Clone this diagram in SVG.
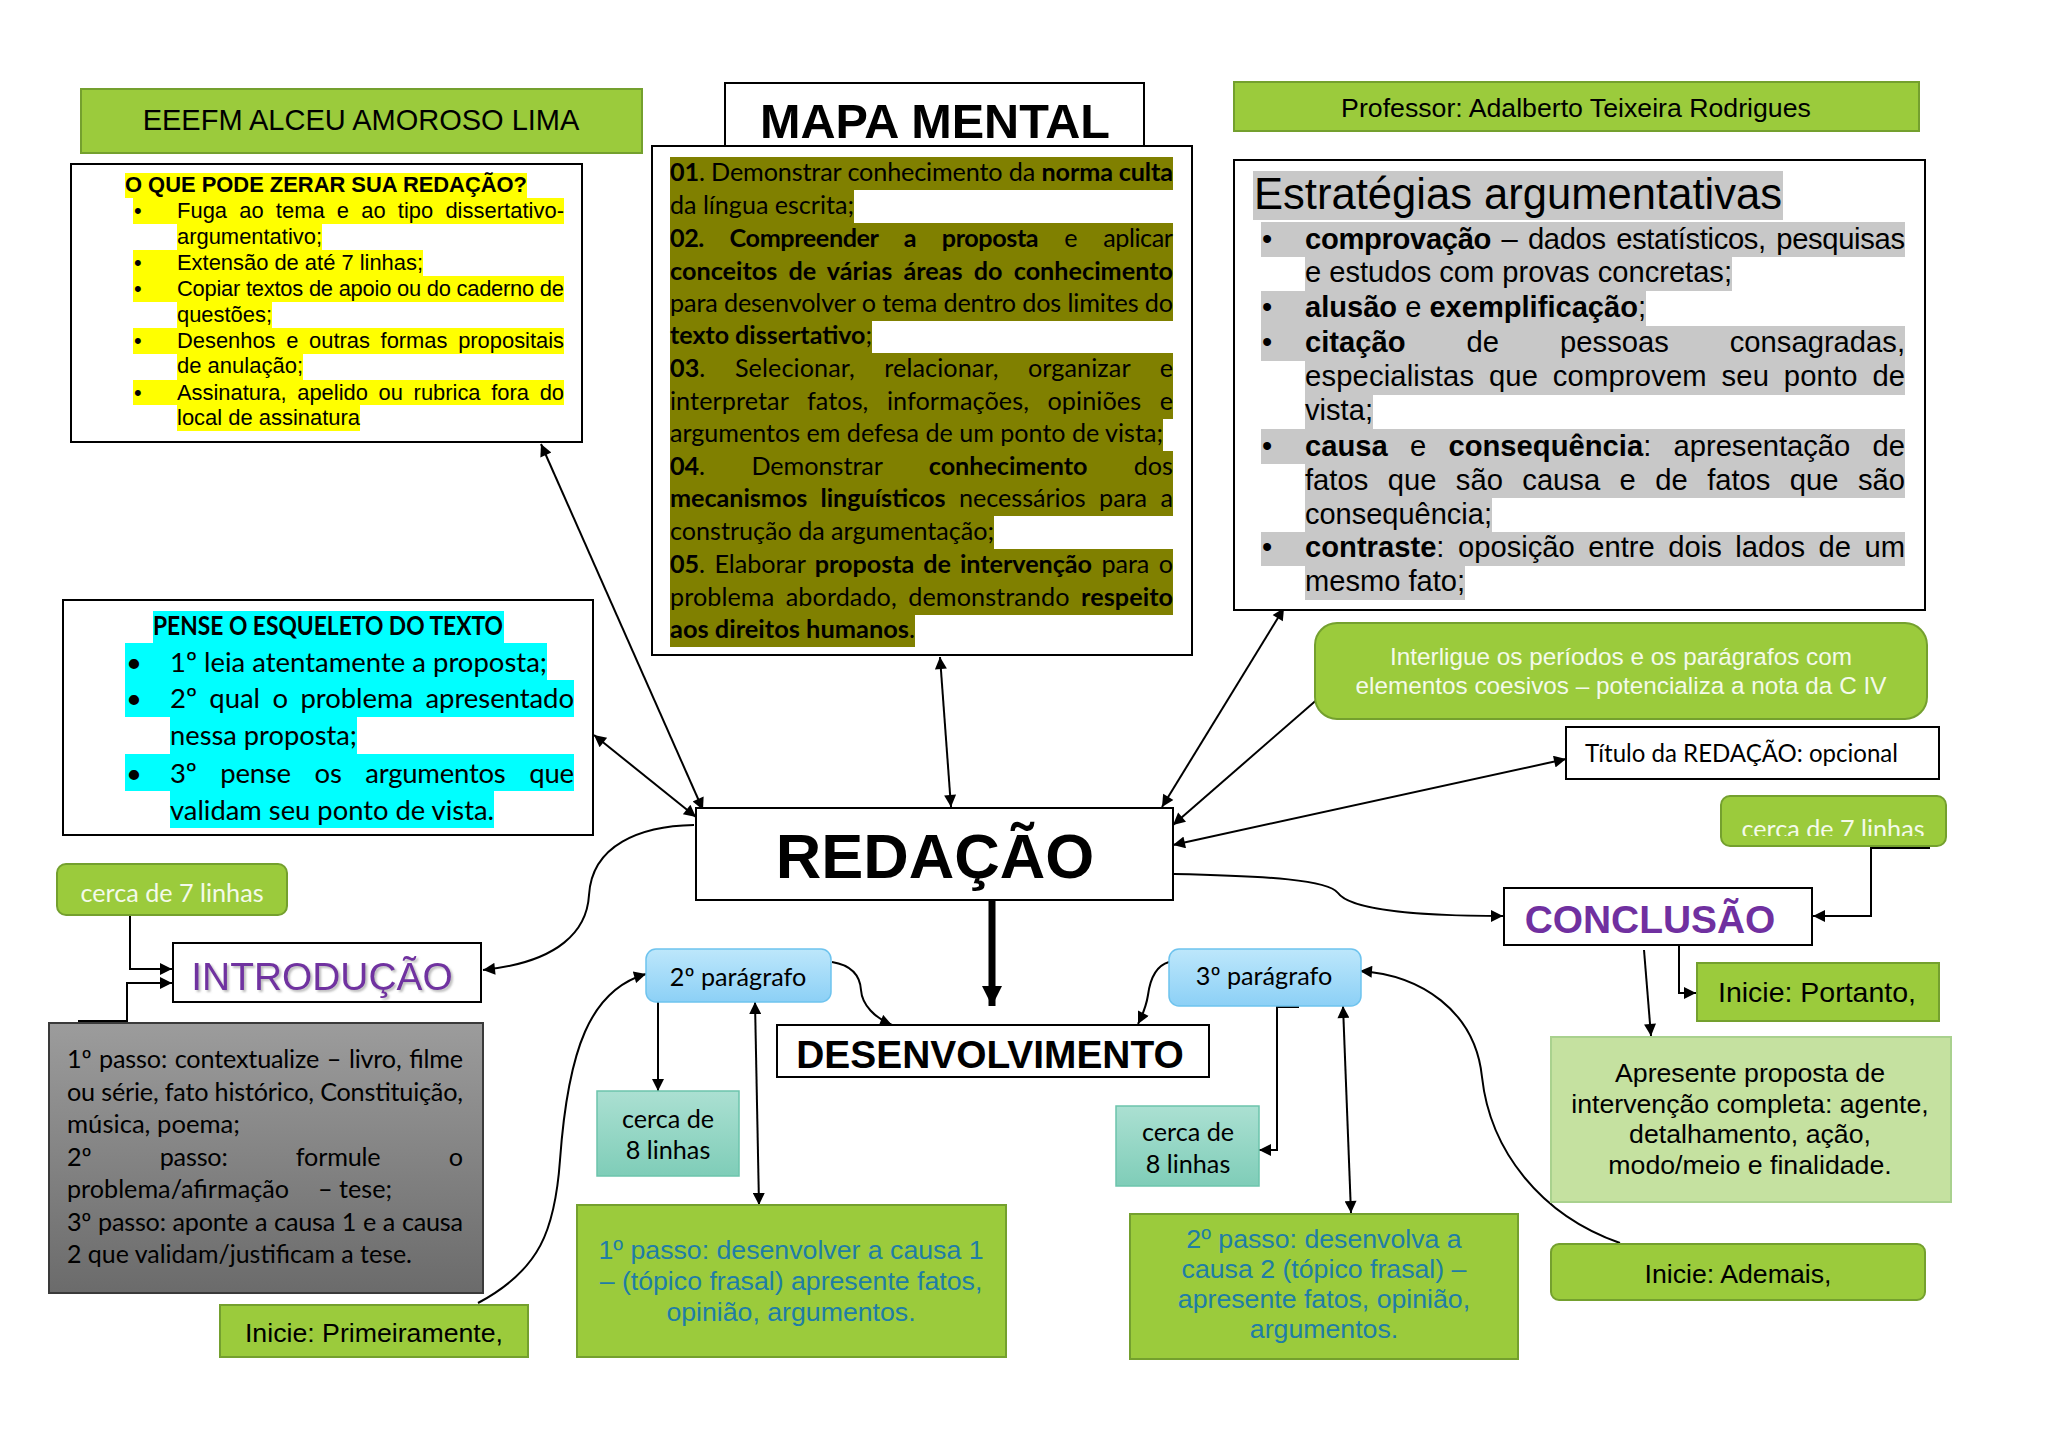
<svg xmlns="http://www.w3.org/2000/svg" width="2048" height="1449" viewBox="0 0 2048 1449">
<style>
.wb{fill:#fff;stroke:#000;stroke-width:2}
.gr{fill:#9BCB3C;stroke:#74A02E;stroke-width:2}
.ar{font-family:"Liberation Sans",Arial,sans-serif}
.ca{font-family:Lato,"Noto Sans",sans-serif}
.b{font-weight:700}
.m{font-family:Lato,"Noto Sans",sans-serif;font-size:25.2px}
.e{font-family:"Liberation Sans",Arial,sans-serif;font-size:29.2px}
.q{font-family:"Liberation Sans",Arial,sans-serif;font-size:21.9px}
.p{font-family:Lato,"Noto Sans",sans-serif;font-size:27.5px}
.gt{font-family:Lato,"Noto Sans",sans-serif;font-size:25.2px}
.c{fill:none;stroke:#000;stroke-width:2}
.ol{fill:#808000}
.yl{fill:#FFFF00}
.gy{fill:#C8C8C8}
.cy{fill:#00FFFF}
.bt{fill:#1F7DA6}
</style>
<defs>
<marker id="ah" viewBox="0 0 10 10" refX="10" refY="5" markerWidth="7" markerHeight="6" orient="auto-start-reverse" markerUnits="strokeWidth"><path d="M0,0 L10,5 L0,10 z" fill="#000"/></marker>
<marker id="ahT" viewBox="0 0 10 10" refX="10" refY="5" markerWidth="20" markerHeight="20" orient="auto" markerUnits="userSpaceOnUse"><path d="M0,0 L10,5 L0,10 z" fill="#000"/></marker>
<linearGradient id="gGray" x1="0" y1="0" x2="0" y2="1"><stop offset="0" stop-color="#9c9c9c"/><stop offset="1" stop-color="#6b6b6b"/></linearGradient>
<linearGradient id="gBlue" x1="0" y1="0" x2="0" y2="1"><stop offset="0" stop-color="#BDE7FB"/><stop offset="1" stop-color="#8CD0F6"/></linearGradient>
<linearGradient id="gTeal" x1="0" y1="0" x2="0" y2="1"><stop offset="0" stop-color="#ABE0D2"/><stop offset="1" stop-color="#7FCDB8"/></linearGradient>
<filter id="sh" x="-5%" y="-20%" width="110%" height="140%"><feDropShadow dx="2" dy="2" stdDeviation="1" flood-color="#777" flood-opacity="0.5"/></filter>
<clipPath id="clipC7"><rect x="1721" y="796" width="225" height="40"/></clipPath>
</defs>
<rect width="2048" height="1449" fill="#fff"/>

<g id="connectors">
<path class="c" d="M541,444 L703,810" marker-start="url(#ah)" marker-end="url(#ah)"/>
<path class="c" d="M594,735 L696,817" marker-start="url(#ah)" marker-end="url(#ah)"/>
<path class="c" d="M940,657 L951,807" marker-start="url(#ah)" marker-end="url(#ah)"/>
<path class="c" d="M1284,608 L1162,807" marker-start="url(#ah)" marker-end="url(#ah)"/>
<path class="c" d="M1320,697 L1173,825" marker-end="url(#ah)"/>
<path class="c" d="M1566,759 L1173,845" marker-start="url(#ah)" marker-end="url(#ah)"/>
<path class="c" d="M1174,874 C1270,876 1328,880 1338,893 C1350,910 1420,916 1503,916" marker-end="url(#ah)"/>
<path class="c" d="M1930,848 L1871,848 L1871,916 L1813,916" marker-end="url(#ah)"/>
<path class="c" d="M1664,945 L1679,945 L1679,993 L1696,993" marker-end="url(#ah)"/>
<path class="c" d="M1644,950 L1651,1036" marker-end="url(#ah)"/>
<path class="c" d="M1620,1243 C1540,1215 1490,1150 1482,1077 C1475,1010 1420,975 1360,971" marker-end="url(#ah)"/>
<path class="c" d="M1343,1006 L1351,1213" marker-start="url(#ah)" marker-end="url(#ah)"/>
<path class="c" d="M1299,1007 L1277,1007 L1277,1150 L1259,1150" marker-end="url(#ah)"/>
<path class="c" d="M1169,962 C1155,966 1150,980 1148,995 C1146,1008 1142,1016 1138,1024" marker-end="url(#ah)"/>
<path d="M992,900 L992,1006" fill="none" stroke="#000" stroke-width="7" marker-end="url(#ahT)"/>
<path class="c" d="M832,962 C850,965 860,975 861,990 C862,1005 875,1018 892,1025" marker-end="url(#ah)"/>
<path class="c" d="M755,1002 L759,1205" marker-start="url(#ah)" marker-end="url(#ah)"/>
<path class="c" d="M658,1002 L658,1091" marker-end="url(#ah)"/>
<path class="c" d="M478,1303 C540,1270 555,1230 560,1160 C568,1050 590,990 646,974" marker-end="url(#ah)"/>
<path class="c" d="M694,825 C640,826 592,845 589,895 C587,930 560,962 483,970" marker-end="url(#ah)"/>
<path class="c" d="M88,915 L130,915 L130,969 L172,969" marker-end="url(#ah)"/>
<path class="c" d="M78,1021 L127,1021 L127,983 L172,983" marker-end="url(#ah)"/>
</g>

<g id="escola">
<rect class="gr" x="81" y="89" width="561" height="64"/>
<text class="ar" x="361" y="130" font-size="29" text-anchor="middle">EEEFM ALCEU AMOROSO LIMA</text>
</g>

<g id="professor">
<rect class="gr" x="1234" y="82" width="685" height="49"/>
<text class="ar" x="1576" y="117" font-size="26.7" text-anchor="middle">Professor: Adalberto Teixeira Rodrigues</text>
</g>

<g id="mapa-titulo">
<rect class="wb" x="725" y="83" width="419" height="64"/>
<text class="ar b" x="935" y="138" font-size="48.6" text-anchor="middle">MAPA MENTAL</text>
</g>

<g id="mapa-competencias">
<rect class="wb" x="652" y="146" width="540" height="509"/>
<rect class="ol" x="670" y="157" width="503" height="33"/>
<rect class="ol" x="670" y="190" width="184" height="33"/>
<rect class="ol" x="670" y="223" width="503" height="33"/>
<rect class="ol" x="670" y="256" width="503" height="33"/>
<rect class="ol" x="670" y="288" width="503" height="33"/>
<rect class="ol" x="670" y="320" width="202" height="33"/>
<rect class="ol" x="670" y="353" width="503" height="33"/>
<rect class="ol" x="670" y="386" width="503" height="33"/>
<rect class="ol" x="670" y="418" width="493" height="33"/>
<rect class="ol" x="670" y="451" width="503" height="33"/>
<rect class="ol" x="670" y="483" width="503" height="33"/>
<rect class="ol" x="670" y="516" width="324" height="33"/>
<rect class="ol" x="670" y="549" width="503" height="33"/>
<rect class="ol" x="670" y="582" width="503" height="33"/>
<rect class="ol" x="670" y="614" width="245" height="33"/>
<text class="m" x="670" y="181" textLength="503" lengthAdjust="spacing"><tspan class="b">01</tspan>. Demonstrar conhecimento da <tspan class="b">norma culta</tspan></text>
<text class="m" x="670" y="214" textLength="184" lengthAdjust="spacingAndGlyphs">da língua escrita;</text>
<text class="m" x="670" y="247" textLength="503" lengthAdjust="spacing" word-spacing="20"><tspan class="b">02. Compreender a proposta</tspan> e aplicar</text>
<text class="m b" x="670" y="280" textLength="503" lengthAdjust="spacing" word-spacing="5">conceitos de várias áreas do conhecimento</text>
<text class="m" x="670" y="312" textLength="503" lengthAdjust="spacing">para desenvolver o tema dentro dos limites do</text>
<text class="m" x="670" y="344" textLength="202" lengthAdjust="spacingAndGlyphs"><tspan class="b">texto dissertativo</tspan>;</text>
<text class="m" x="670" y="377" textLength="503" lengthAdjust="spacing" word-spacing="23"><tspan class="b">03</tspan>. Selecionar, relacionar, organizar e</text>
<text class="m" x="670" y="410" textLength="503" lengthAdjust="spacing" word-spacing="12">interpretar fatos, informações, opiniões e</text>
<text class="m" x="670" y="442" textLength="493" lengthAdjust="spacingAndGlyphs">argumentos em defesa de um ponto de vista;</text>
<text class="m" x="670" y="475" textLength="503" lengthAdjust="spacing" word-spacing="40"><tspan class="b">04</tspan>. Demonstrar <tspan class="b">conhecimento</tspan> dos</text>
<text class="m" x="670" y="507" textLength="503" lengthAdjust="spacing" word-spacing="7"><tspan class="b">mecanismos linguísticos</tspan> necessários para a</text>
<text class="m" x="670" y="540" textLength="324" lengthAdjust="spacingAndGlyphs">construção da argumentação;</text>
<text class="m" x="670" y="573" textLength="503" lengthAdjust="spacing" word-spacing="3"><tspan class="b">05</tspan>. Elaborar <tspan class="b">proposta de intervenção</tspan> para o</text>
<text class="m" x="670" y="606" textLength="503" lengthAdjust="spacing" word-spacing="5">problema abordado, demonstrando <tspan class="b">respeito</tspan></text>
<text class="m" x="670" y="638" textLength="245" lengthAdjust="spacingAndGlyphs"><tspan class="b">aos direitos humanos</tspan>.</text>
</g>

<g id="zerar">
<rect class="wb" x="71" y="164" width="511" height="278"/>
<rect class="yl" x="125" y="173" width="402" height="25"/>
<rect class="yl" x="133" y="198" width="431" height="26"/>
<rect class="yl" x="177" y="224" width="145" height="26"/>
<rect class="yl" x="133" y="250" width="290" height="26"/>
<rect class="yl" x="133" y="276" width="431" height="26"/>
<rect class="yl" x="177" y="302" width="95" height="26"/>
<rect class="yl" x="133" y="328" width="431" height="26"/>
<rect class="yl" x="177" y="353" width="126" height="27"/>
<rect class="yl" x="133" y="380" width="431" height="25"/>
<rect class="yl" x="177" y="405" width="183" height="26"/>
<text class="q b" x="125" y="192" font-size="22" textLength="402" lengthAdjust="spacingAndGlyphs">O QUE PODE ZERAR SUA REDAÇÃO?</text>
<text class="q" x="134" y="218">•</text>
<text class="q" x="177" y="218" textLength="387" lengthAdjust="spacing" word-spacing="6">Fuga ao tema e ao tipo dissertativo-</text>
<text class="q" x="177" y="244" textLength="145" lengthAdjust="spacingAndGlyphs">argumentativo;</text>
<text class="q" x="134" y="270">•</text>
<text class="q" x="177" y="270" textLength="246" lengthAdjust="spacingAndGlyphs">Extensão de até 7 linhas;</text>
<text class="q" x="134" y="296">•</text>
<text class="q" x="177" y="296" textLength="387" lengthAdjust="spacing">Copiar textos de apoio ou do caderno de</text>
<text class="q" x="177" y="322" textLength="95" lengthAdjust="spacingAndGlyphs">questões;</text>
<text class="q" x="134" y="348">•</text>
<text class="q" x="177" y="348" textLength="387" lengthAdjust="spacing" word-spacing="4.6">Desenhos e outras formas propositais</text>
<text class="q" x="177" y="373" textLength="126" lengthAdjust="spacingAndGlyphs">de anulação;</text>
<text class="q" x="134" y="400">•</text>
<text class="q" x="177" y="400" textLength="387" lengthAdjust="spacing" word-spacing="4.6">Assinatura, apelido ou rubrica fora do</text>
<text class="q" x="177" y="425" textLength="183" lengthAdjust="spacingAndGlyphs">local de assinatura</text>
</g>

<g id="estrategias">
<rect class="wb" x="1234" y="160" width="691" height="450"/>
<rect class="gy" x="1253" y="171" width="530" height="49"/>
<rect class="gy" x="1261" y="222" width="644" height="35"/>
<rect class="gy" x="1305" y="257" width="427" height="34"/>
<rect class="gy" x="1261" y="291" width="385" height="35"/>
<rect class="gy" x="1261" y="326" width="644" height="35"/>
<rect class="gy" x="1305" y="361" width="600" height="34"/>
<rect class="gy" x="1305" y="395" width="68" height="34"/>
<rect class="gy" x="1261" y="429" width="644" height="35"/>
<rect class="gy" x="1305" y="464" width="600" height="34"/>
<rect class="gy" x="1305" y="498" width="187" height="34"/>
<rect class="gy" x="1261" y="532" width="644" height="34"/>
<rect class="gy" x="1305" y="566" width="160" height="34"/>
<text class="ar" x="1254" y="209" font-size="43.7" textLength="528" lengthAdjust="spacingAndGlyphs">Estratégias argumentativas</text>
<text class="e" x="1262" y="249">•</text>
<text class="e" x="1305" y="249" textLength="600" lengthAdjust="spacing" word-spacing="2.7"><tspan class="b">comprovação</tspan> – dados estatísticos, pesquisas</text>
<text class="e" x="1305" y="282" textLength="427" lengthAdjust="spacingAndGlyphs">e estudos com provas concretas;</text>
<text class="e" x="1262" y="317">•</text>
<text class="e" x="1305" y="317" textLength="341" lengthAdjust="spacingAndGlyphs"><tspan class="b">alusão</tspan> e <tspan class="b">exemplificação</tspan>;</text>
<text class="e" x="1262" y="352">•</text>
<text class="e" x="1305" y="352" textLength="600" lengthAdjust="spacing" word-spacing="52.9"><tspan class="b">citação</tspan> de pessoas consagradas,</text>
<text class="e" x="1305" y="386" textLength="600" lengthAdjust="spacing" word-spacing="6.5">especialistas que comprovem seu ponto de</text>
<text class="e" x="1305" y="420" textLength="68" lengthAdjust="spacingAndGlyphs">vista;</text>
<text class="e" x="1262" y="456">•</text>
<text class="e" x="1305" y="456" textLength="600" lengthAdjust="spacing" word-spacing="14.1"><tspan class="b">causa</tspan> e <tspan class="b">consequência</tspan>: apresentação de</text>
<text class="e" x="1305" y="490" textLength="600" lengthAdjust="spacing" word-spacing="11.3">fatos que são causa e de fatos que são</text>
<text class="e" x="1305" y="524" textLength="187" lengthAdjust="spacingAndGlyphs">consequência;</text>
<text class="e" x="1262" y="557">•</text>
<text class="e" x="1305" y="557" textLength="600" lengthAdjust="spacing" word-spacing="5.4"><tspan class="b">contraste</tspan>: oposição entre dois lados de um</text>
<text class="e" x="1305" y="591" textLength="160" lengthAdjust="spacingAndGlyphs">mesmo fato;</text>
</g>

<g id="esqueleto">
<rect class="wb" x="63" y="600" width="530" height="235"/>
<rect class="cy" x="153" y="611" width="351" height="32"/>
<rect class="cy" x="125" y="643" width="422" height="37"/>
<rect class="cy" x="125" y="680" width="449" height="37"/>
<rect class="cy" x="170" y="717" width="187" height="37"/>
<rect class="cy" x="125" y="754" width="449" height="37"/>
<rect class="cy" x="170" y="791" width="324" height="37"/>
<text class="p b" x="153" y="635" textLength="350" lengthAdjust="spacingAndGlyphs">PENSE O ESQUELETO DO TEXTO</text>
<text class="p" x="126" y="672">•</text>
<text class="p" x="170" y="672" textLength="377" lengthAdjust="spacingAndGlyphs">1º leia atentamente a proposta;</text>
<text class="p" x="126" y="708">•</text>
<text class="p" x="170" y="708" textLength="404" lengthAdjust="spacing" word-spacing="5.5">2º qual o problema apresentado</text>
<text class="p" x="170" y="745" textLength="187" lengthAdjust="spacingAndGlyphs">nessa proposta;</text>
<text class="p" x="126" y="783">•</text>
<text class="p" x="170" y="783" textLength="404" lengthAdjust="spacing" word-spacing="17">3º pense os argumentos que</text>
<text class="p" x="170" y="820" textLength="324" lengthAdjust="spacingAndGlyphs">validam seu ponto de vista.</text>
</g>

<g id="interligue">
<rect class="gr" x="1315" y="623" width="612" height="96" rx="22"/>
<text class="ar" x="1621" y="665" font-size="24.3" fill="#F4FAEA" text-anchor="middle">Interligue os períodos e os parágrafos com</text>
<text class="ar" x="1621" y="694" font-size="24.3" fill="#F4FAEA" text-anchor="middle">elementos coesivos – potencializa a nota da C IV</text>
</g>

<g id="titulo">
<rect class="wb" x="1566" y="727" width="373" height="52"/>
<text class="gt" x="1585" y="762" textLength="313" lengthAdjust="spacingAndGlyphs">Título da REDAÇÃO: opcional</text>
</g>

<g id="cerca7-conclusao">
<rect class="gr" x="1721" y="796" width="225" height="50" rx="9"/>
<text class="gt" x="1833" y="838" fill="#F4FAEA" text-anchor="middle" clip-path="url(#clipC7)">cerca de 7 linhas</text>
</g>

<g id="redacao">
<rect class="wb" x="696" y="808" width="477" height="92" stroke-width="2.5"/>
<text class="ar b" x="935" y="878" font-size="63" text-anchor="middle">REDAÇÃO</text>
</g>

<g id="cerca7-introducao">
<rect class="gr" x="57" y="864" width="230" height="51" rx="9"/>
<text class="gt" x="172" y="902" fill="#F4FAEA" text-anchor="middle">cerca de 7 linhas</text>
</g>

<g id="introducao">
<rect class="wb" x="173" y="943" width="308" height="59"/>
<text class="ar" x="322" y="990" font-size="38.9" fill="#7030A0" text-anchor="middle" filter="url(#sh)">INTRODUÇÃO</text>
</g>

<g id="conclusao">
<rect class="wb" x="1504" y="888" width="308" height="57"/>
<text class="ar b" x="1650" y="933" font-size="38.9" fill="#7030A0" text-anchor="middle">CONCLUSÃO</text>
</g>

<g id="paragrafo2">
<rect x="646" y="949" width="185" height="53" rx="10" fill="url(#gBlue)" stroke="#6EC3EE" stroke-width="1.5"/>
<text class="gt" x="738" y="986" text-anchor="middle">2º parágrafo</text>
</g>

<g id="paragrafo3">
<rect x="1169" y="949" width="192" height="57" rx="10" fill="url(#gBlue)" stroke="#6EC3EE" stroke-width="1.5"/>
<text class="gt" x="1264" y="985" text-anchor="middle">3º parágrafo</text>
</g>

<g id="portanto">
<rect class="gr" x="1697" y="963" width="242" height="58"/>
<text class="ar" x="1817" y="1002" font-size="28.5" text-anchor="middle">Inicie: Portanto,</text>
</g>

<g id="desenvolvimento">
<rect class="wb" x="777" y="1025" width="432" height="52"/>
<text class="ar b" x="990" y="1068" font-size="38.9" text-anchor="middle">DESENVOLVIMENTO</text>
</g>

<g id="passos-introducao">
<rect x="49" y="1023" width="434" height="270" fill="url(#gGray)" stroke="#3a3a3a" stroke-width="2"/>
<text class="gt" x="67" y="1068" textLength="396" lengthAdjust="spacing" word-spacing="1.4">1º passo: contextualize – livro, filme</text>
<text class="gt" x="67" y="1101" textLength="396" lengthAdjust="spacing">ou série, fato histórico, Constituição,</text>
<text class="gt" x="67" y="1133" textLength="173" lengthAdjust="spacingAndGlyphs">música, poema;</text>
<text class="gt" x="67" y="1166" textLength="396" lengthAdjust="spacing" word-spacing="62">2º passo: formule o</text>
<text class="gt" y="1198"><tspan x="67">problema/afirmação</tspan><tspan x="318">– tese;</tspan></text>
<text class="gt" x="67" y="1231" textLength="396" lengthAdjust="spacing" word-spacing="0.6">3º passo: aponte a causa 1 e a causa</text>
<text class="gt" x="67" y="1263" textLength="345" lengthAdjust="spacingAndGlyphs">2 que validam/justificam a tese.</text>
</g>

<g id="apresente">
<rect x="1551" y="1037" width="400" height="165" fill="#C5E1A0" stroke="#A9D18E" stroke-width="2"/>
<text class="ar" font-size="26.7" text-anchor="middle"><tspan x="1750" y="1082">Apresente proposta de</tspan><tspan x="1750" y="1113">intervenção completa: agente,</tspan><tspan x="1750" y="1143">detalhamento, ação,</tspan><tspan x="1750" y="1174">modo/meio e finalidade.</tspan></text>
</g>

<g id="cerca8-esq">
<rect x="597" y="1091" width="142" height="85" fill="url(#gTeal)" stroke="#6CC4AC" stroke-width="1.5"/>
<text class="gt" text-anchor="middle"><tspan x="668" y="1128">cerca de</tspan><tspan x="668" y="1159">8 linhas</tspan></text>
</g>

<g id="cerca8-dir">
<rect x="1116" y="1106" width="143" height="80" fill="url(#gTeal)" stroke="#6CC4AC" stroke-width="1.5"/>
<text class="gt" text-anchor="middle"><tspan x="1188" y="1141">cerca de</tspan><tspan x="1188" y="1173">8 linhas</tspan></text>
</g>

<g id="passo1">
<rect class="gr" x="577" y="1205" width="429" height="152"/>
<text class="ar bt" font-size="26.7" text-anchor="middle"><tspan x="791" y="1259">1º passo: desenvolver a causa 1</tspan><tspan x="791" y="1290">– (tópico frasal) apresente fatos,</tspan><tspan x="791" y="1321">opinião, argumentos.</tspan></text>
</g>

<g id="passo2">
<rect class="gr" x="1130" y="1214" width="388" height="145"/>
<text class="ar bt" font-size="26.7" text-anchor="middle"><tspan x="1324" y="1248">2º passo: desenvolva a</tspan><tspan x="1324" y="1278">causa 2 (tópico frasal) –</tspan><tspan x="1324" y="1308">apresente fatos, opinião,</tspan><tspan x="1324" y="1338">argumentos.</tspan></text>
</g>

<g id="ademais">
<rect class="gr" x="1551" y="1244" width="374" height="56" rx="8"/>
<text class="ar" x="1738" y="1283" font-size="26.7" text-anchor="middle">Inicie: Ademais,</text>
</g>

<g id="primeiramente">
<rect class="gr" x="220" y="1305" width="308" height="52"/>
<text class="ar" x="374" y="1342" font-size="26.7" text-anchor="middle">Inicie: Primeiramente,</text>
</g>
</svg>
